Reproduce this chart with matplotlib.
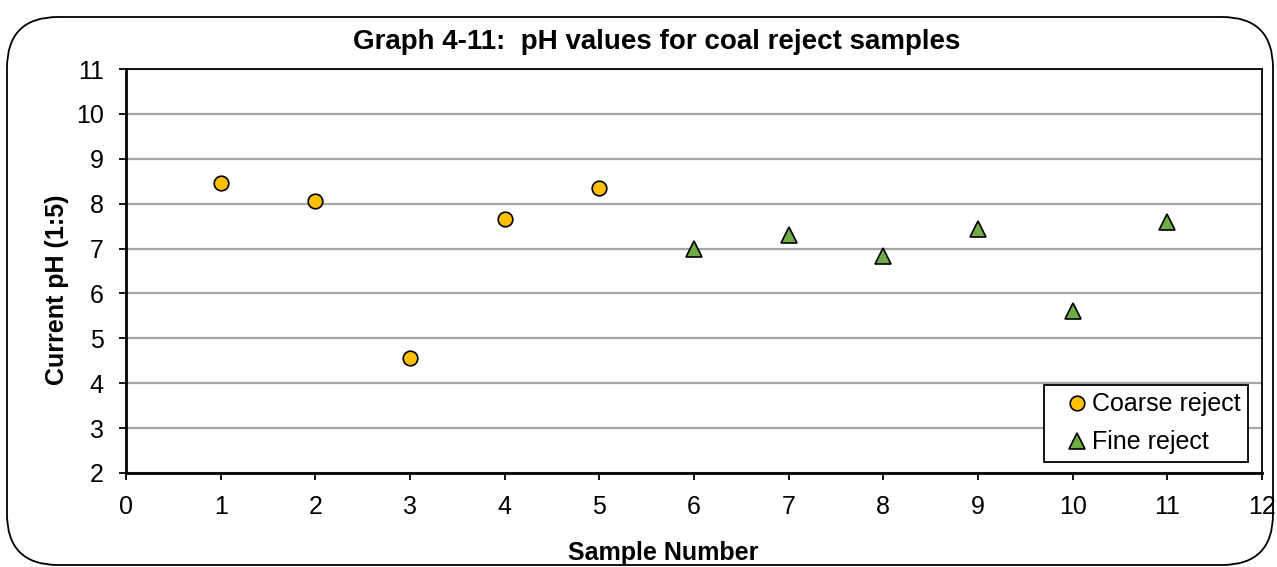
import matplotlib
matplotlib.use("Agg")
import matplotlib.pyplot as plt
from matplotlib.patches import FancyBboxPatch

coarse_x = [1, 2, 3, 4, 5]
coarse_ph = [8.45, 8.07, 4.56, 7.65, 8.36]
fine_x = [6, 7, 8, 9, 10, 11]
fine_ph = [7.0, 7.3, 6.84, 7.44, 5.6, 7.6]
x_ticks = list(range(0, 13))
y_ticks = list(range(2, 12))

plt.rcParams['font.family'] = ['Liberation Sans', 'DejaVu Sans']

fig = plt.figure(figsize=(12.77, 5.67), dpi=100)
border = FancyBboxPatch((7/1277, 2/567), 1266/1277, 548/567,
                        boxstyle="round,pad=0,rounding_size=0.04",
                        transform=fig.transFigure, fill=False,
                        edgecolor='black', linewidth=1.3,
                        mutation_aspect=1277/567)
fig.patches.append(border)

ax = fig.add_axes([126/1277, 1 - 473/567, (1262-126)/1277, (473-69)/567])
ax.set_xlim(0, 12)
ax.set_ylim(2, 11)
ax.set_xticks(x_ticks)
ax.set_yticks(y_ticks)
ax.grid(axis='y', color='#a6a6a6', linewidth=1.6)
ax.set_axisbelow(True)
for s in ax.spines.values():
    s.set_color('black')
    s.set_linewidth(1.3)
ax.spines['left'].set_linewidth(2)
ax.spines['bottom'].set_linewidth(2)
ax.tick_params(axis='both', direction='out', length=5, width=1.3, labelsize=18, colors='black')
ax.tick_params(axis='x', pad=11)
ax.tick_params(axis='y', pad=11)

ax.plot(coarse_x, coarse_ph, linestyle='none', marker='o', markersize=10.5,
        markerfacecolor='#FFC000', markeredgecolor='black', markeredgewidth=1.2,
        label='Coarse reject', zorder=3)
ax.plot(fine_x, fine_ph, linestyle='none', marker='^', markersize=11.5,
        markerfacecolor='#6FAC46', markeredgecolor='black', markeredgewidth=1.2,
        label='Fine reject', zorder=3)

ax.set_xlabel('Sample Number', fontsize=18, fontweight='bold')
ax.set_ylabel('Current pH (1:5)', fontsize=18, fontweight='bold')
ax.xaxis.label.set_va('center')
ax.yaxis.label.set_va('center')
ax.xaxis.set_label_coords((663 - 126) / 1136, (473 - 553) / 404)
ax.yaxis.set_label_coords((57 - 126) / 1136, (473 - 290) / 404)
fig.text(657 / 1277, 1 - 42/567, 'Graph 4-11:  pH values for coal reject samples',
         ha='center', va='center', fontsize=20, fontweight='bold')

leg = ax.legend(loc='lower right', bbox_to_anchor=((1248 - 126) / 1136, (473 - 462) / 404),
                fontsize=18, frameon=True, fancybox=False, edgecolor='black', framealpha=1,
                handlelength=2.0, handletextpad=-0.4, borderpad=0.3, labelspacing=0.56,
                borderaxespad=0)
leg.get_frame().set_linewidth(1.3)

fig.savefig('out.png', dpi=100)
